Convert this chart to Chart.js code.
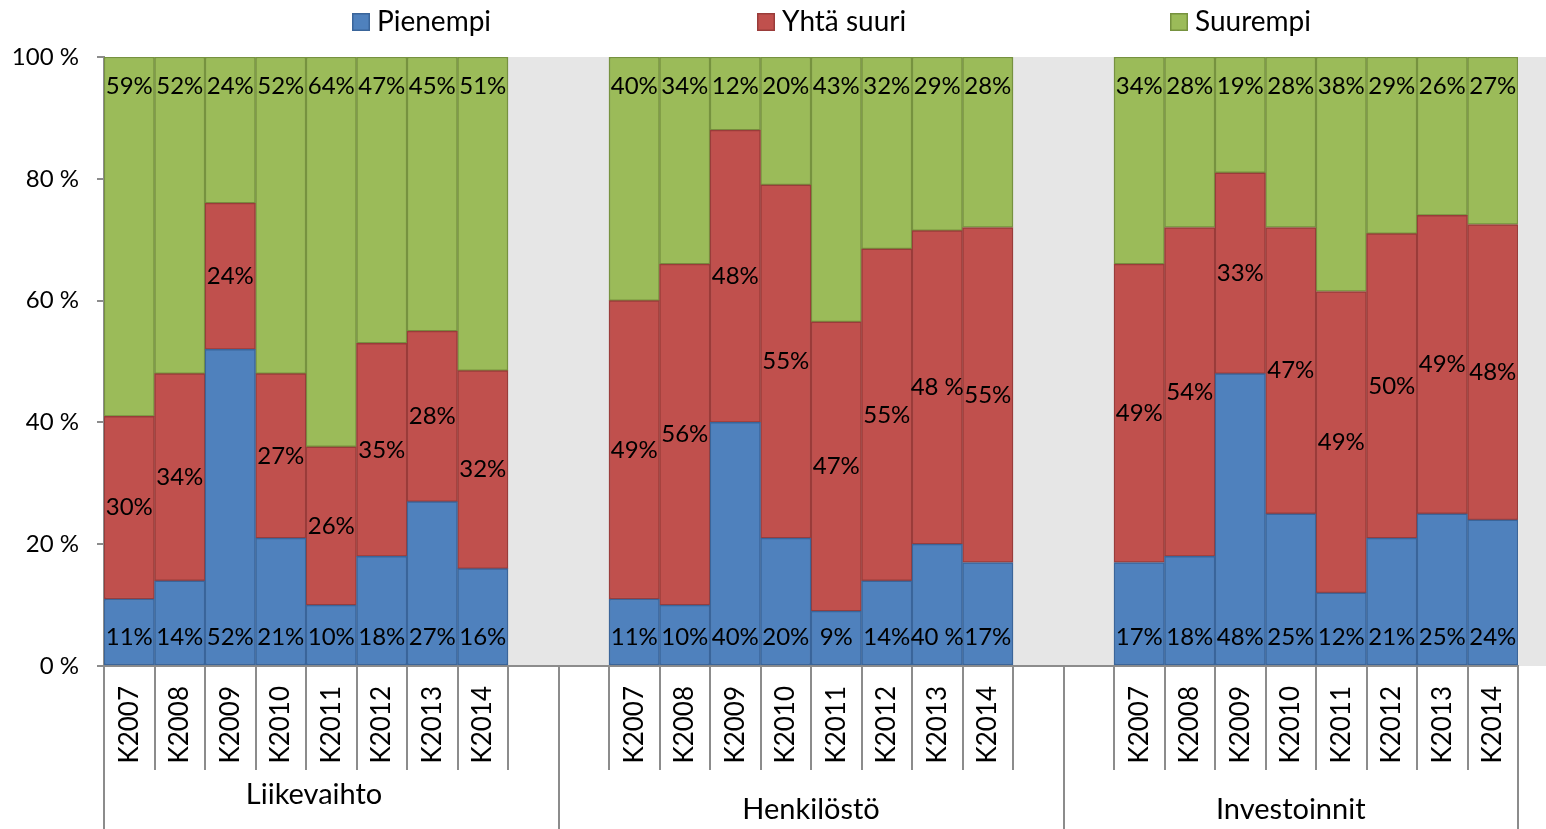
<!DOCTYPE html>
<html>
<head>
<meta charset="utf-8">
<script src="https://cdn.jsdelivr.net/npm/chart.js@4"></script>
<style>
html,body{margin:0;padding:0;background:#fff;}
#wrap{width:1546px;height:829px;position:relative;}
</style>
</head>
<body>
<div id="wrap"><canvas id="c" width="1546" height="829"></canvas></div>
<script>
const years = ['K2007','K2008','K2009','K2010','K2011','K2012','K2013','K2014'];
const groups = ['Liikevaihto','Henkilöstö','Investoinnit'];
const seriesNames = ['Pienempi','Yhtä suuri','Suurempi'];

// bar heights, per group: Liikevaihto, Henkilöstö, Investoinnit
const pienempi  = [11,14,52,21,10,18,27,16,   11,10,40,21,9,14,20,17,        17,18,48,25,12,21,25,24];
const yhtaSuuri = [30,34,24,27,26,35,28,32.5, 49,56,48,58,47.5,54.5,51.5,55, 49,54,33,47,49.5,50,49,48.5];
const suurempi  = [59,52,24,52,64,47,45,51.5, 40,34,12,21,43.5,31.5,28.5,28, 34,28,19,28,38.5,29,26,27.5];

// data label texts as printed on the chart
const pienempiLabels  = ['11%','14%','52%','21%','10%','18%','27%','16%','11%','10%','40%','20%','9%','14%','40 %','17%','17%','18%','48%','25%','12%','21%','25%','24%'];
const yhtaSuuriLabels = ['30%','34%','24%','27%','26%','35%','28%','32%','49%','56%','48%','55%','47%','55%','48 %','55%','49%','54%','33%','47%','49%','50%','49%','48%'];
const suurempiLabels  = ['59%','52%','24%','52%','64%','47%','45%','51%','40%','34%','12%','20%','43%','32%','29%','28%','34%','28%','19%','28%','38%','29%','26%','27%'];

const yTicks = [0,20,40,60,80,100];

function spread(arr){ return [...arr.slice(0,8), null, null, ...arr.slice(8,16), null, null, ...arr.slice(16,24)]; }
const categories = spread(years.concat(years, years)).map(v => v === null ? '' : v);
// group spans in slot indices (inclusive), label anchor index, label vertical offset
const groupSpans = [[0,8,3.66,129],[9,18,13.5,144],[19,27,23,144]];

const fills   = ['#4F81BD','#C0504D','#9BBB59'];
const borders = ['#3A659A','#9A3C3A','#76923F'];
const FONT = 'Lato';

const labelSets = [spread(pienempiLabels), spread(yhtaSuuriLabels), spread(suurempiLabels)];

const bgPlugin = {
  id:'bg',
  beforeDraw(chart){
    const {ctx, chartArea:a} = chart;
    ctx.save();
    ctx.fillStyle = '#E6E6E6';
    ctx.fillRect(a.left, a.top, chart.width - a.left, a.bottom - a.top);
    ctx.restore();
  }
};

const decoPlugin = {
  id:'deco',
  afterDatasetsDraw(chart){
    const ctx = chart.ctx;
    ctx.save();
    ctx.font = '24px ' + FONT;
    ctx.fillStyle = '#000';
    ctx.textAlign = 'center';
    ctx.textBaseline = 'middle';
    chart.data.datasets.forEach((ds, di) => {
      const meta = chart.getDatasetMeta(di);
      meta.data.forEach((el, i) => {
        const txt = labelSets[di][i];
        if (!txt || ds.data[i] === null) return;
        const top = Math.min(el.y, el.base), bot = Math.max(el.y, el.base);
        let y;
        if (di === 0) y = bot - 28;
        else if (di === 2) y = top + 29;
        else y = (top + bot) / 2;
        ctx.fillText(txt, el.x, y);
      });
    });
    ctx.restore();
  },
  afterDraw(chart){
    const ctx = chart.ctx;
    const a = chart.chartArea;
    const xs = chart.scales.x;
    const n = categories.length;
    const w = (xs.right - xs.left) / n;
    ctx.save();
    ctx.strokeStyle = '#8C8C8C';
    ctx.lineWidth = 2;
    const major = new Set([0, 9, 19, 28]);
    for (let i = 0; i <= n; i++){
      const x = Math.round(xs.left + i * w);
      ctx.beginPath();
      ctx.moveTo(x, a.bottom);
      ctx.lineTo(x, major.has(i) ? chart.height : a.bottom + 104);
      ctx.stroke();
    }
    // group labels
    ctx.fillStyle = '#000';
    ctx.font = '29px ' + FONT;
    ctx.textAlign = 'center';
    ctx.textBaseline = 'middle';
    groupSpans.forEach((g, gi) => {
      const x = xs.left + (g[2] + 0.5) * w;
      ctx.fillText(groups[gi], x, a.bottom + g[3]);
    });
    // legend
    const legendX = [352, 757, 1170];
    ctx.font = '28px ' + FONT;
    ctx.textAlign = 'left';
    seriesNames.forEach((name, i) => {
      ctx.fillStyle = fills[i];
      ctx.fillRect(legendX[i], 13, 18, 18);
      ctx.strokeStyle = borders[i];
      ctx.lineWidth = 1.5;
      ctx.strokeRect(legendX[i] + 0.75, 13.75, 16.5, 16.5);
      ctx.fillStyle = '#000';
      ctx.fillText(name, legendX[i] + 25, 22);
    });
    ctx.restore();
  }
};

const datasets = [pienempi, yhtaSuuri, suurempi].map((arr, i) => ({
  label: seriesNames[i],
  data: spread(arr),
  backgroundColor: fills[i],
  borderColor: borders[i],
  borderWidth: 1.5,
  borderSkipped: false,
  barPercentage: 1,
  categoryPercentage: 1
}));

new Chart(document.getElementById('c'), {
  type: 'bar',
  data: { labels: categories, datasets },
  options: {
    responsive: false,
    animation: false,
    layout: { padding: { top: 57, right: 28, left: 0, bottom: 0 } },
    plugins: { legend: { display: false }, tooltip: { enabled: false } },
    scales: {
      x: {
        stacked: true,
        grid: { display: false, drawTicks: false },
        border: { display: true, color: '#8C8C8C', width: 2 },
        ticks: { autoSkip: false, minRotation: 90, maxRotation: 90, padding: 20, color: '#000', font: { family: FONT, size: 26 } },
        afterFit(s){ s.height = 163; }
      },
      y: {
        stacked: true,
        min: 0, max: 100,
        afterBuildTicks(s){ s.ticks = yTicks.map(v => ({ value: v })); },
        grid: { drawOnChartArea: false, drawTicks: true, tickLength: 7, color: '#8C8C8C', lineWidth: 2 },
        border: { display: true, color: '#8C8C8C', width: 2 },
        ticks: { padding: 18, color: '#000', font: { family: FONT, size: 24 }, callback: v => v + ' %' },
        afterFit(s){ s.width = 104; }
      }
    }
  },
  plugins: [bgPlugin, decoPlugin]
});
</script>
</body>
</html>
